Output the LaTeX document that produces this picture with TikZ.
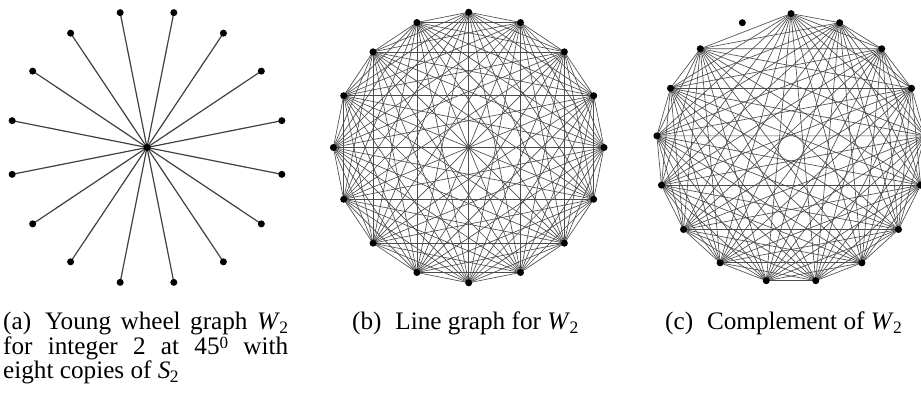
\documentclass[tikz,border=0pt]{standalone}
\usepackage{fontspec}
\setmainfont{Liberation Serif}
\newcommand\subtwo[1]{\raisebox{-0.15em}{\fontsize{17.5}{17.5}\selectfont #1}}
\newcommand\suptwo[1]{\raisebox{0.25em}{\fontsize{17}{17}\selectfont #1}}
\newcommand\mvar[2]{\textit{#1}\kern-0.02em\subtwo{#2}}
\begin{document}
\begin{tikzpicture}[x=1pt,y=-1pt,
  dot/.style={circle,fill=black,draw=none,inner sep=0pt,minimum size=7pt},
  spoke/.style={draw=black!75,line width=1.2pt},
  kedge/.style={draw=black!70,line width=0.65pt},
  captext/.style={anchor=base west,inner sep=0pt,font=\fontsize{25.2}{24}\selectfont}]
\useasboundingbox (0,0) rectangle (921,401);
\clip (0,0) rectangle (921,401);
% ---------- panel (a): star ----------
\coordinate (ac) at (147,147.5);
\foreach \i in {1,...,16}
  \coordinate (a\i) at ({147+137.5*cos(11.25+22.5*\i)},{147.5-137.5*sin(11.25+22.5*\i)});
\foreach \i in {1,...,16} \draw[spoke] (ac) -- (a\i);
\node[dot] (vac) at (ac) {};
\foreach \i in {1,...,16} \node[dot] (va\i) at (a\i) {};
% ---------- panel (b): line graph K16 ----------
\foreach \i in {1,...,16}
  \coordinate (b\i) at ({468.7+135.3*cos(90-22.5*(\i-1))},{147.5-135.3*sin(90-22.5*(\i-1))});
\foreach \i in {1,...,15}{
  \pgfmathtruncatemacro\s{\i+1}
  \foreach \j in {\s,...,16} \draw[kedge] (b\i) -- (b\j);
}
\foreach \i in {1,...,16} \node[dot] (vb\i) at (b\i) {};
% ---------- panel (c): complement ----------
\foreach \k in {0,...,16}
  \coordinate (c\k) at ({791+134.7*cos(90+\k*360/17)},{148.3-134.7*sin(90+\k*360/17)});
\foreach \j in {2,...,16} \draw[kedge] (c0) -- (c\j);
\foreach \i in {2,...,15}{
  \pgfmathtruncatemacro\s{\i+1}
  \foreach \j in {\s,...,16} \draw[kedge] (c\i) -- (c\j);
}
\foreach \k in {0,...,16} \node[dot] (vc\k) at (c\k) {};
% ---------- captions ----------
\node[captext] (capa1) at (3,329.5) {\makebox[285pt][s]{(a)\hspace{0.55em}Young wheel graph \mvar{W}{2}}};
\node[captext] (capa2) at (3,354.3) {\makebox[285pt][s]{for integer 2 at 45\suptwo{0} with}};
\node[captext] (capa3) at (3,378.6) {eight copies of \mvar{S}{2}};
\node[captext] (capb) at (352,329.5) {(b)\hspace{0.55em}Line graph for \mvar{W}{2}};
\node[captext] (capc) at (665,329.5) {(c)\hspace{0.55em}Complement of \mvar{W}{2}};
\end{tikzpicture}
\end{document}
